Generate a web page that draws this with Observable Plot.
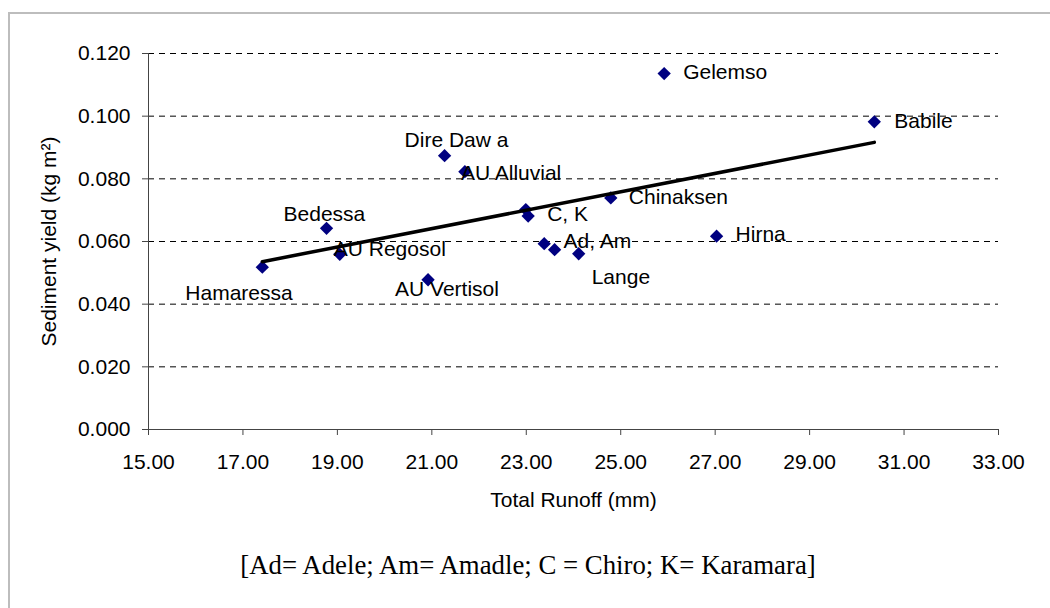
<!DOCTYPE html>
<html><head><meta charset="utf-8">
<script src="https://cdn.jsdelivr.net/npm/d3@7"></script>
<script src="https://cdn.jsdelivr.net/npm/@observablehq/plot@0.6"></script>
<style>
body{margin:0;background:#fff;width:1050px;height:608px;overflow:hidden;position:relative;font-family:"Liberation Sans",Arial,sans-serif}
#chart{position:absolute;left:0;top:0}
#frame{position:absolute;left:8px;top:12px;right:-4px;bottom:-10px;border-left:2px solid #bdbdbd;border-top:2px solid #bdbdbd;pointer-events:none}
#caption{position:absolute;left:0;width:1056px;top:548px;text-align:center;font-family:"Liberation Serif","Times New Roman",serif;font-size:26.8px;line-height:34px;color:#000}
</style></head>
<body>
<div id="chart"></div>
<div id="frame"></div>
<div id="caption">[Ad= Adele; Am= Amadle; C = Chiro; K= Karamara]</div>
<script>
// Data
const sites    = ["Hamaressa","Bedessa","AU Regosol","AU Vertisol","Dire Dawa","AU Alluvial","C","K","Ad","Am","Lange","Chinaksen","Gelemso","Hirna","Babile"];
const runoff   = [17.41, 18.77, 19.05, 20.92, 21.27, 21.70, 22.99, 23.04, 23.38, 23.60, 24.11, 24.79, 25.92, 27.03, 30.37];
const sediment = [0.0518, 0.0642, 0.0559, 0.0478, 0.0874, 0.0823, 0.0702, 0.0681, 0.0593, 0.0574, 0.0561, 0.0739, 0.1136, 0.0617, 0.0982];

// Point labels and the site each one is attached to
const labelTexts = ["Hamaressa","Bedessa","AU Regosol","AU Vertisol","Dire Daw a","AU Alluvial","C, K","Ad, Am","Lange","Chinaksen","Gelemso","Hirna","Babile"];
const labelSites = ["Hamaressa","Bedessa","AU Regosol","AU Vertisol","Dire Dawa","AU Alluvial","K","Am","Lange","Chinaksen","Gelemso","Hirna","Babile"];

const xTicks = [15, 17, 19, 21, 23, 25, 27, 29, 31, 33];
const yTicks = [0, 0.02, 0.04, 0.06, 0.08, 0.10, 0.12];

const xTitle = "Total Runoff (mm)";
const yTitle = "Sediment yield (kg m²)";

// Label placement (offsets in px from the point)
const labelOffset = {
  "Hamaressa":[-77,26], "Bedessa":[-43,-14], "AU Regosol":[-6,-5], "AU Vertisol":[-33,10],
  "Dire Daw a":[-40,-15], "AU Alluvial":[-4,2], "C, K":[19,-2], "Ad, Am":[9,-8],
  "Lange":[13,24], "Chinaksen":[18,-1], "Gelemso":[19,-1], "Hirna":[19,-2], "Babile":[20,-1]
};

const data = sites.map((s, i) => ({site: s, x: runoff[i], y: sediment[i]}));
const labels = labelTexts.map((t, i) => {
  const d = data.find(p => p.site === labelSites[i]);
  return {text: t, x: d.x, y: d.y};
});

const labelMarks = labels.map(l => Plot.text([l], {
  x: "x", y: "y", text: "text", textAnchor: "start", lineAnchor: "middle",
  dx: labelOffset[l.text][0], dy: labelOffset[l.text][1],
  fill: "#000", fontSize: 21
}));

const chart = Plot.plot({
  width: 1050, height: 530,
  marginLeft: 148, marginRight: 52, marginTop: 53, marginBottom: 101,
  style: {fontFamily: "'Liberation Sans', Arial, sans-serif", fontSize: "21px", background: "transparent", color: "#000"},
  x: {domain: [15, 33]},
  y: {domain: [0, 0.12]},
  marks: [
    Plot.gridY(yTicks, {stroke: "#000", strokeOpacity: 1, strokeDasharray: "6,5"}),
    Plot.axisY(yTicks, {tickFormat: d3.format(".3f"), tickSize: 6, tickPadding: 12, stroke: "#444", label: null, fontSize: 21}),
    Plot.axisX(xTicks, {tickFormat: d3.format(".2f"), tickSize: 6, tickPadding: 19, stroke: "#444", label: null, fontSize: 21}),
    Plot.ruleX([15], {y1: 0, y2: 0.12, stroke: "#444"}),
    Plot.ruleY([0], {x1: 15, x2: 33, stroke: "#444"}),
    Plot.dot(data, {x: "x", y: "y", symbol: "diamond2", r: 6, fill: "#000080", stroke: null}),
    Plot.linearRegressionY(data, {x: "x", y: "y", stroke: "#000", strokeWidth: 3.5, ci: 0}),
    ...labelMarks,
    Plot.text([xTitle], {frameAnchor: "bottom", lineAnchor: "middle", textAnchor: "middle", dy: 71, fontSize: 21, fill: "#000"}),
    Plot.text([yTitle], {frameAnchor: "left", lineAnchor: "middle", textAnchor: "middle", dx: -99, rotate: -90, fontSize: 21, fill: "#000"})
  ]
});
document.getElementById("chart").appendChild(chart);
</script>
</body></html>
